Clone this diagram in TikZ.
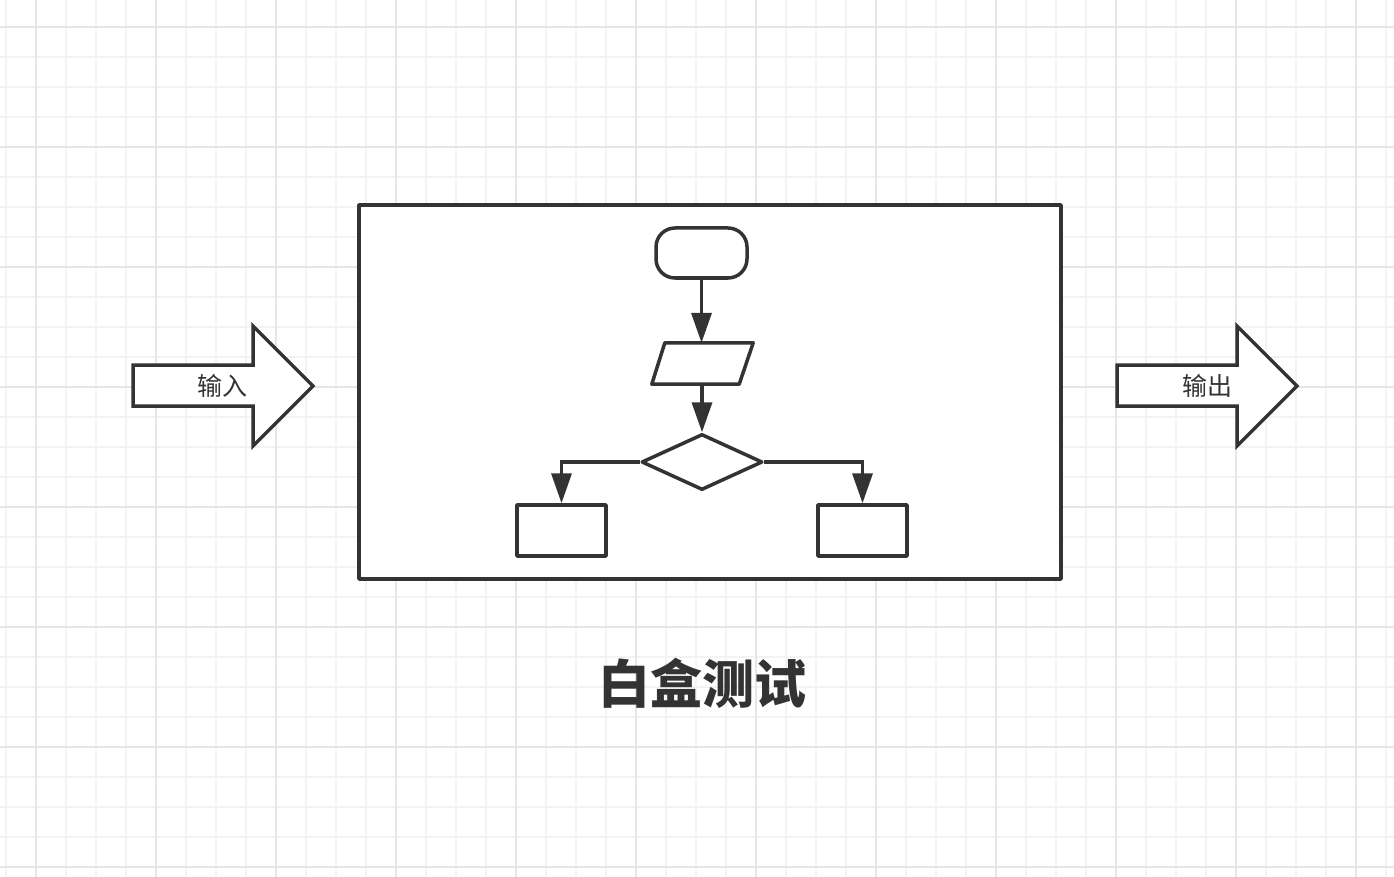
\documentclass[tikz,border=0pt]{standalone}
\usepackage{fontspec}
\newfontfamily\cjk{Noto Sans CJK SC}
\usetikzlibrary{shapes.geometric,arrows.meta}
\definecolor{ink}{HTML}{333333}
\definecolor{gridminor}{HTML}{F3F3F3}
\definecolor{gridmajor}{HTML}{E6E6E6}
\tikzset{
  minorline/.style={draw=gridminor,line width=2pt},
  majorline/.style={draw=gridmajor,line width=2pt},
  shp/.style={draw=ink,line width=3.5pt,fill=white,inner sep=0pt,line join=round},
  conn/.style={draw=ink,line width=3.5pt,-{Triangle[length=30pt,width=20pt]}},
  bigarrow/.style={draw=ink,line width=3.5pt,fill=white,line join=miter},
  lbl/.style={text=ink,font=\cjk\fontsize{25pt}{30pt}\selectfont,inner sep=0pt},
  ttl/.style={text=ink,font=\cjk\bfseries\fontsize{52pt}{60pt}\selectfont,inner sep=0pt}
}
\begin{document}
\begin{tikzpicture}[x=1pt,y=-1pt]
\useasboundingbox[fill=white] (0,0) rectangle (1394,877);
% grid
\foreach \x in {6,36,...,1386} \draw[minorline] (\x,0) -- (\x,877);
\foreach \y in {27,57,...,867} \draw[minorline] (0,\y) -- (1394,\y);
\foreach \x in {36,156,...,1356} \draw[majorline] (\x,0) -- (\x,877);
\foreach \y in {27,147,...,867} \draw[majorline] (0,\y) -- (1394,\y);
% input arrow
\draw[bigarrow] (133,365) -- (253,365) -- (253,326) -- (313,386) -- (253,446) -- (253,406) -- (133,406) -- cycle;
\node[lbl] (in) at (222,386) {输入};
% output arrow
\draw[bigarrow] (1117,365) -- (1237,365) -- (1237,326) -- (1297,386) -- (1237,446) -- (1237,406) -- (1117,406) -- cycle;
\node[lbl] (out) at (1207,386) {输出};
% main box
\node[shp,rectangle,minimum width=702pt,minimum height=374pt] (box) at (710,392) {};
% flowchart
\node[shp,rectangle,rounded corners=19pt,minimum width=91pt,minimum height=50pt] (start) at (701.5,253) {};
\node[rectangle,inner sep=0pt,minimum width=101pt,minimum height=41pt] (io) at (702.5,363.5) {};
\draw[shp] ([xshift=13pt]io.north west) -- (io.north east) -- ([xshift=-14pt]io.south east) -- (io.south west) -- cycle;
\node[shp,diamond,minimum width=121pt,minimum height=56pt] (dec) at (702,462) {};
\node[shp,rectangle,minimum width=89pt,minimum height=51pt] (a) at (561.5,530.5) {};
\node[shp,rectangle,minimum width=89pt,minimum height=51pt] (b) at (862.5,530.5) {};
\draw[conn] (start.south) -- (start.south |- io.north);
\draw[conn] (io.south -| dec.north) -- (dec.north);
\draw[conn] (dec.west) -| (a.north);
\draw[conn] (dec.east) -| (b.north);
% title
\node[ttl] (title) at (702,683) {白盒测试};
\end{tikzpicture}
\end{document}
